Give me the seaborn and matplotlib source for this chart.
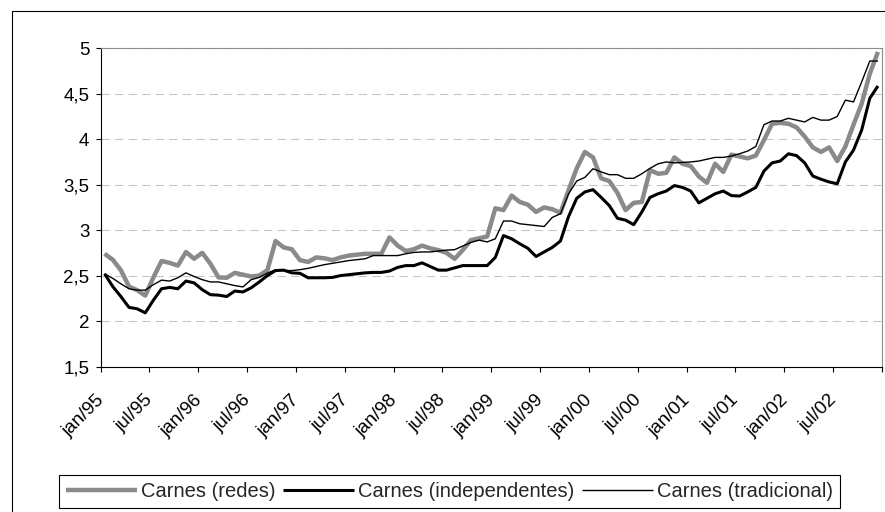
import numpy as np
import pandas as pd
import matplotlib
matplotlib.use("Agg")
import matplotlib.pyplot as plt
import matplotlib.transforms as mtransforms
from matplotlib.patches import Rectangle
from matplotlib.ticker import FuncFormatter
import seaborn as sns

# Monthly price series, jan/95 .. dez/02
redes = [
    2.74, 2.675, 2.56, 2.38, 2.34, 2.28, 2.48, 2.66, 2.64, 2.61, 2.76, 2.685,
    2.75, 2.63, 2.48, 2.476, 2.53, 2.51, 2.49, 2.50, 2.56, 2.88, 2.81, 2.79,
    2.67, 2.65, 2.70, 2.69, 2.67, 2.70, 2.72, 2.73, 2.74, 2.74, 2.74, 2.92,
    2.83, 2.77, 2.79, 2.83, 2.80, 2.78, 2.75, 2.685, 2.78, 2.89, 2.91, 2.93,
    3.24, 3.22, 3.38, 3.31, 3.28, 3.20, 3.25, 3.23, 3.19, 3.44, 3.68, 3.86,
    3.80, 3.57, 3.54, 3.41, 3.22, 3.30, 3.31, 3.66, 3.62, 3.63, 3.80, 3.73,
    3.705, 3.59, 3.52, 3.73, 3.64, 3.83, 3.81, 3.79, 3.82, 3.99, 4.17, 4.18,
    4.17, 4.13, 4.03, 3.91, 3.86, 3.91, 3.76, 3.92, 4.16, 4.39, 4.72, 4.96,
]
independentes = [
    2.52, 2.38, 2.27, 2.15, 2.135, 2.09, 2.23, 2.355, 2.37, 2.355, 2.44, 2.42,
    2.345, 2.29, 2.285, 2.27, 2.33, 2.32, 2.365, 2.43, 2.50, 2.555, 2.56, 2.53,
    2.525, 2.476, 2.476, 2.476, 2.48, 2.50, 2.51, 2.52, 2.53, 2.535, 2.535, 2.55,
    2.59, 2.61, 2.61, 2.64, 2.60, 2.56, 2.56, 2.585, 2.61, 2.61, 2.61, 2.61,
    2.70, 2.94, 2.905, 2.85, 2.80, 2.71, 2.76, 2.81, 2.88, 3.15, 3.35, 3.42,
    3.445, 3.36, 3.27, 3.13, 3.11, 3.06, 3.20, 3.36, 3.40, 3.43, 3.49, 3.47,
    3.43, 3.30, 3.35, 3.40, 3.43, 3.38, 3.375, 3.42, 3.47, 3.65, 3.74, 3.76,
    3.84, 3.82, 3.74, 3.595, 3.56, 3.53, 3.51, 3.75, 3.88, 4.10, 4.45, 4.585,
]
tradicional = [
    2.52, 2.47, 2.41, 2.355, 2.34, 2.34, 2.40, 2.45, 2.44, 2.476, 2.53, 2.49,
    2.455, 2.43, 2.43, 2.41, 2.39, 2.375, 2.455, 2.48, 2.527, 2.565, 2.555, 2.555,
    2.565, 2.58, 2.60, 2.62, 2.635, 2.65, 2.665, 2.675, 2.685, 2.72, 2.72, 2.72,
    2.72, 2.74, 2.755, 2.76, 2.76, 2.77, 2.78, 2.785, 2.825, 2.865, 2.89, 2.87,
    2.905, 3.10, 3.10, 3.07, 3.06, 3.05, 3.04, 3.14, 3.18, 3.40, 3.54, 3.58,
    3.675, 3.64, 3.61, 3.61, 3.57, 3.57, 3.62, 3.68, 3.73, 3.75, 3.74, 3.745,
    3.75, 3.76, 3.78, 3.80, 3.80, 3.815, 3.84, 3.87, 3.92, 4.16, 4.20, 4.20,
    4.23, 4.21, 4.19, 4.24, 4.21, 4.21, 4.25, 4.43, 4.41, 4.63, 4.86, 4.86,
]

rotulos_x = [
    "jan/95", "jul/95", "jan/96", "jul/96", "jan/97", "jul/97", "jan/98", "jul/98",
    "jan/99", "jul/99", "jan/00", "jul/00", "jan/01", "jul/01", "jan/02", "jul/02",
]
y_ticks = [1.5, 2, 2.5, 3, 3.5, 4, 4.5, 5]
nomes = ["Carnes (redes)", "Carnes (independentes)", "Carnes (tradicional)"]
cores = ["#8a8a8a", "#000000", "#000000"]
espessuras = [3.2, 2.2, 1.0]

n = len(redes)
meses = np.arange(n)
df = pd.DataFrame({
    "mes": np.tile(meses, 3),
    "valor": redes + independentes + tradicional,
    "serie": np.repeat(nomes, n),
})

sns.set_theme(style="white")
plt.rcParams["font.family"] = ["Liberation Sans", "DejaVu Sans"]

W, H = 885, 512
fig = plt.figure(figsize=(W / 100, H / 100), dpi=100)
fig.patch.set_facecolor("white")

left, right, top, bottom = 100.5, 882.0, 48.3, 366.5
ax = fig.add_axes([left / W, 1 - bottom / H, (right - left) / W, (bottom - top) / H])

for nome, cor, lw in zip(nomes, cores, espessuras):
    sub = df[df["serie"] == nome]
    sns.lineplot(data=sub, x="mes", y="valor", color=cor, linewidth=lw,
                 label=nome, ax=ax, solid_joinstyle="round", solid_capstyle="butt")

ax.set_xlim(-0.5, n - 0.5)
ax.set_ylim(1.5, 5)
ax.set_xlabel("")
ax.set_ylabel("")

# axes frame
for s in ["left", "bottom"]:
    ax.spines[s].set_color("black")
    ax.spines[s].set_linewidth(0.8)
for s in ["top", "right"]:
    ax.spines[s].set_color("#8c8c8c")
    ax.spines[s].set_linewidth(0.8)

# horizontal dashed grid
ax.set_axisbelow(True)
ax.yaxis.grid(True, color="#c4c4c4", linestyle=(0, (8, 5)), linewidth=0.75)
ax.xaxis.grid(False)

ax.set_yticks(y_ticks)
ax.yaxis.set_major_formatter(FuncFormatter(lambda v, p: f"{v:g}".replace(".", ",")))
ax.tick_params(axis="y", which="major", direction="out", length=3.6, width=0.8,
               pad=4.5, labelsize=13.5, colors="black", left=True)

# category labels every 6 months, tick marks on category boundaries
ax.set_xticks(meses[::6])
ax.set_xticklabels(rotulos_x)
ax.set_xticks(np.arange(-0.5, n, 6), minor=True)
ax.tick_params(axis="x", which="major", length=0, pad=22.5, labelsize=13.5, colors="black")
ax.tick_params(axis="x", which="minor", direction="out", length=3.6, width=0.8,
               bottom=True, color="black")

handles, labels = ax.get_legend_handles_labels()
ax.get_legend().remove()

leg = fig.legend(handles, labels, loc="center",
                 bbox_to_anchor=((61.7 + 837) / 2 / W, 1 - 491.5 / H),
                 ncol=3, frameon=True, fancybox=False, shadow=False,
                 edgecolor="black", framealpha=1, fontsize=14.5,
                 handlelength=3.5, handletextpad=0.2, columnspacing=0.4,
                 borderpad=0.35, borderaxespad=0)
leg.get_frame().set_linewidth(0.8)

# outer chart border
fig.patches.append(Rectangle((11.5 / W, -0.1), 2, 1 - 11 / H + 0.1,
                             transform=fig.transFigure, fill=False,
                             edgecolor="black", linewidth=0.8))

shift = mtransforms.ScaledTranslation(-3 / 100, 0, fig.dpi_scale_trans)
for lbl in ax.get_xticklabels():
    lbl.set_rotation(45)
    lbl.set_ha("right")
    lbl.set_va("center")
    lbl.set_rotation_mode("anchor")
    lbl.set_transform(lbl.get_transform() + shift)

fig.savefig("out.png", dpi=100)
